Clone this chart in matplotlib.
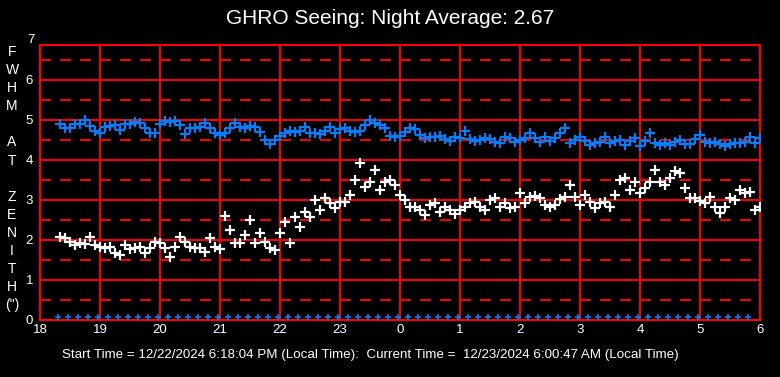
import numpy as np
import matplotlib
matplotlib.use("Agg")
import matplotlib.pyplot as plt

# readings every 5 minutes, 18:20 -> 06:00 (hours past midnight run on as 24..30)
start_hour = 18 + 20 / 60.0
step_hour = 5 / 60.0

fwhm_blue = [
    4.89, 4.79, 4.79, 4.90, 4.90, 5.00, 4.85, 4.73, 4.67, 4.83, 4.85, 4.88,
    4.75, 4.90, 4.90, 4.96, 4.93, 4.79, 4.67, 4.67, 4.90, 4.98, 4.95, 4.98,
    4.88, 4.65, 4.79, 4.79, 4.82, 4.92, 4.79, 4.67, 4.63,
    4.67, 4.79, 4.93, 4.83, 4.79, 4.85, 4.82, 4.71, 4.50, 4.40, 4.50, 4.60,
    4.67, 4.73, 4.71, 4.73, 4.82, 4.68, 4.68, 4.65, 4.73, 4.82, 4.67, 4.77,
    4.79, 4.73, 4.71, 4.73, 4.88, 5.00, 4.92, 4.88, 4.79, 4.60, 4.57, 4.60,
    4.71, 4.79, 4.77, 4.63, 4.54, 4.58, 4.57, 4.60, 4.52, 4.48, 4.58, 4.54,
    4.73, 4.52, 4.48, 4.50, 4.54, 4.52, 4.46, 4.43, 4.57, 4.54, 4.46, 4.50,
    4.54, 4.68, 4.54, 4.46, 4.58, 4.48, 4.54, 4.67, 4.79, 4.43, 4.50, 4.58,
    4.48, 4.38, 4.43, 4.46, 4.58, 4.42, 4.48, 4.50, 4.38, 4.48, 4.54, 4.35,
    4.48, 4.67, 4.42, 4.38, 4.42, 4.38, 4.46, 4.50, 4.40, 4.40, 4.52, 4.63,
    4.46, 4.42, 4.46, 4.40, 4.35, 4.40, 4.42, 4.42, 4.46, 4.58, 4.42, 4.54,
]

fwhm_white = [
    2.08, 2.04, 1.96, 1.88, 1.92, 1.90, 2.08, 1.88, 1.82, 1.79, 1.83, 1.67,
    1.63, 1.88, 1.77, 1.79, 1.82, 1.68, 1.79, 1.96, 1.92, 1.79, 1.58, 1.83,
    2.08, 1.96, 1.83, 1.79, 1.79, 1.71, 2.04, 1.83, 1.77,
    2.60, 2.25, 1.93, 1.92, 2.13, 2.50, 1.92, 2.17, 1.96, 1.79, 1.75, 2.17,
    2.46, 1.92, 2.58, 2.33, 2.71, 2.58, 3.00, 2.75, 3.04, 2.92, 2.79, 2.96,
    2.96, 3.13, 3.50, 3.92, 3.33, 3.46, 3.75, 3.25, 3.46, 3.50, 3.38, 3.13,
    3.00, 2.83, 2.83, 2.75, 2.63, 2.88, 2.92, 2.71, 2.83, 2.75, 2.65, 2.75,
    2.83, 2.93, 2.96, 2.83, 2.75, 3.00, 3.04, 2.83, 2.93, 2.79, 2.83, 3.17,
    2.92, 3.07, 3.10, 3.04, 2.88, 2.83, 2.88, 3.02, 3.08, 3.38, 3.08, 2.88,
    3.13, 2.96, 2.79, 2.92, 2.96, 2.83, 3.13, 3.50, 3.54, 3.25, 3.46, 3.17,
    3.29, 3.46, 3.75, 3.46, 3.38, 3.54, 3.73, 3.68, 3.29, 3.04, 3.04, 2.98,
    2.92, 3.07, 2.83, 2.68, 2.82, 3.04, 3.00, 3.25, 3.17, 3.21, 2.75, 2.83,
]

# zero readings plotted along the floor, roughly every 10 minutes
zero_start = 18.3
zero_step = 10 / 60.0
zero_count = 70
zero_level = 0.07

hour_ticks = list(range(18, 31))
hour_labels = [str(h % 24) for h in hour_ticks]
fwhm_ticks = [0, 1, 2, 3, 4, 5, 6]

title = "GHRO Seeing: Night Average: 2.67"
footer = ("Start Time = 12/22/2024 6:18:04 PM (Local Time):  "
          "Current Time =  12/23/2024 6:00:47 AM (Local Time)")
side_label = ["F", "W", "H", "M", "", "A", "T", "", "Z", "E", "N", "I", "T", "H", "(\")"]

plt.rcParams["font.family"] = ["Liberation Sans", "DejaVu Sans"]
plt.rcParams["lines.scale_dashes"] = False

RED = "#ff0000"
BLUE = "#0a7cf5"

t_blue = start_hour + step_hour * np.arange(len(fwhm_blue))
t_white = start_hour + step_hour * np.arange(len(fwhm_white))
t_zero = zero_start + zero_step * np.arange(zero_count)

fig = plt.figure(figsize=(7.8, 3.77), dpi=100, facecolor="black")
ax = fig.add_axes([40 / 780, 57 / 377, 720 / 780, 275 / 377])
ax.set_facecolor("black")
ax.set_xlim(18, 30)
ax.set_ylim(0, 6.875)

# grid: solid at whole hours / whole units, dashed at the half units
for h in hour_ticks[1:-1]:
    ax.axvline(h, color=RED, lw=1.4, zorder=1)
for v in range(1, 7):
    ax.axhline(v, color=RED, lw=1.4, zorder=1)
for v in np.arange(0.5, 7, 1.0):
    ax.axhline(v, color=RED, lw=1.4, dashes=(7.9, 6.5), zorder=1)

for s in ax.spines.values():
    s.set_color(RED)
    s.set_linewidth(1.5)

ax.plot(t_blue, fwhm_blue, linestyle="none", marker="+", ms=7, mew=1.6,
        color=BLUE, zorder=3)
ax.plot(t_white, fwhm_white, linestyle="none", marker="+", ms=7, mew=1.6,
        color="white", zorder=3)
ax.plot(t_zero, [zero_level] * zero_count, linestyle="none", marker="+",
        ms=5, mew=1.2, color=BLUE, zorder=3, clip_on=False)

ax.set_xticks(hour_ticks)
ax.set_xticklabels(hour_labels)
ax.set_yticks(fwhm_ticks)
ax.tick_params(length=0, colors="white", labelsize=9.5)
ax.tick_params(axis="y", pad=5)
ax.tick_params(axis="x", pad=3)
fig.text(35 / 780, 1 - 40 / 377, "7", color="white", fontsize=9.5,
         ha="right", va="center")

fig.text(390 / 780, 1 - 19 / 377, title, color="white", fontsize=15,
         ha="center", va="center")
fig.text(62 / 780, 1 - 355 / 377, footer, color="white", fontsize=9.6,
         ha="left", va="center")

for i, ch in enumerate(side_label):
    if ch:
        fig.text(12 / 780, 1 - (52 + 18.1 * i) / 377, ch, color="white",
                 fontsize=10, ha="center", va="center")

plt.savefig("out.png", facecolor="black")
